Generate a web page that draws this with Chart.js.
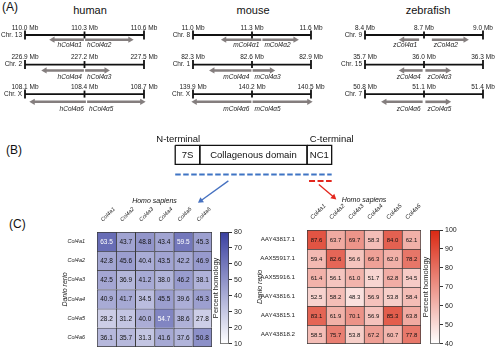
<!DOCTYPE html>
<html>
<head>
<meta charset="utf-8">
<script src="https://cdn.jsdelivr.net/npm/chart.js@4.4.1/dist/chart.umd.min.js"></script>
<style>
  body { margin: 0; background: #fff; }
  #wrap { position: relative; width: 500px; height: 350px; overflow: hidden; font-family: "Liberation Sans", Arial, sans-serif; }
  #wrap canvas, .lbl { position: absolute; }
  .lbl { white-space: nowrap; color: #111; line-height: 1; }
  .mid { transform: translateX(-50%); }
</style>
</head>
<body>
<div id="wrap">
  <div class="lbl" style="left:2px;top:1px;font-size:12px">(A)</div>
  <div class="lbl mid" style="left:90px;top:5px;font-size:11px">human</div>
  <div class="lbl mid" style="left:253px;top:5px;font-size:11px">mouse</div>
  <div class="lbl mid" style="left:428px;top:5px;font-size:11px">zebrafish</div>
  <div class="lbl" style="left:6px;top:144px;font-size:12px">(B)</div>
  <div class="lbl" style="left:9px;top:218px;font-size:12px">(C)</div>

  <canvas id="chrHuman" width="165" height="122" style="left:0;top:0"></canvas>
  <canvas id="chrMouse" width="165" height="122" style="left:165px;top:0"></canvas>
  <canvas id="chrFish" width="170" height="122" style="left:330px;top:0"></canvas>
  <canvas id="domains" width="500" height="88" style="left:0;top:125px"></canvas>
  <canvas id="heatNT" width="250" height="160" style="left:0;top:190px"></canvas>
  <canvas id="barNT" width="55" height="160" style="left:195px;top:190px"></canvas>
  <canvas id="heatNC" width="250" height="160" style="left:250px;top:190px"></canvas>
  <canvas id="barNC" width="95" height="160" style="left:405px;top:190px"></canvas>
</div>
<script>
// ---- panel A: gene loci ----
const chrLabels = [["Chr. 13", "Chr. 2", "Chr. X"], ["Chr. 8", "Chr. 1", "Chr. X"], ["Chr. 9", "Chr. 15", "Chr. 7"]];
const chrStart = [[110.0, 226.9, 108.1], [11.0, 82.3, 139.9], [8.4, 35.7, 50.8]];
const chrMid = [[110.3, 227.2, 108.4], [11.3, 82.6, 140.2], [8.7, 36.0, 51.1]];
const chrEnd = [[110.6, 227.5, 108.7], [11.6, 82.9, 140.5], [9.0, 36.3, 51.4]];

const leftGenes = [["hCol4α1", "hCol4α4", "hCol4α6"], ["mCol4α1", "mCol4α4", "mCol4α6"], ["zCol4α1", "zCol4α4", "zCol4α6"]];
const leftFrom = [[110.297, 227.197, 108.407], [11.347, 82.597, 140.197], [8.675, 35.993, 51.093]];
const leftTo = [[110.14, 227.0, 108.14], [11.16, 82.40, 139.91], [8.59, 35.89, 50.90]];
const rightGenes = [["hCol4α2", "hCol4α3", "hCol4α5"], ["mCol4α2", "mCol4α3", "mCol4α5"], ["zCol4α2", "zCol4α3", "zCol4α5"]];
const rightFrom = [[110.303, 227.203, 108.413], [11.353, 82.603, 140.203], [8.74, 36.007, 51.107]];
const rightTo = [[110.53, 227.31, 108.69], [11.52, 82.70, 140.49], [8.91, 36.12, 51.22]];

// ---- panel B: domain structure ----
const domainNames = ["7S", "Collagenous domain", "NC1"];
const domainLengths = [25, 109, 25]; // relative lengths as drawn

// ---- panel C: heatmaps ----
const humanCols = ["Col4a1", "Col4a2", "Col4a3", "Col4a4", "Col4a5", "Col4a6"];
const fishRowsNT = ["Col4a1", "Col4a2", "Col4a3", "Col4a4", "Col4a5", "Col4a6"];
const valuesNT = [
  [63.5, 43.7, 48.8, 43.4, 59.5, 45.3],
  [42.8, 45.6, 40.4, 43.5, 42.2, 46.9],
  [42.5, 36.9, 41.2, 38.0, 46.2, 38.1],
  [40.9, 41.7, 34.5, 45.5, 39.6, 45.3],
  [28.2, 31.2, 40.0, 54.7, 38.6, 27.8],
  [36.1, 35.7, 31.3, 41.6, 37.6, 50.8]
];
const fishRowsNC = ["AAY43817.1", "AAX55917.1", "AAX55916.1", "AAY43816.1", "AAY43815.1", "AAY43818.2"];
const valuesNC = [
  [87.6, 63.7, 69.7, 58.3, 84.0, 62.1],
  [59.4, 82.6, 56.6, 66.3, 62.0, 78.2],
  [61.4, 56.1, 61.0, 51.7, 62.8, 54.5],
  [52.5, 58.2, 48.3, 56.9, 53.8, 58.4],
  [83.1, 61.9, 70.1, 56.9, 85.3, 63.8],
  [58.5, 75.7, 53.8, 67.2, 60.7, 77.8]
];

const FONT = '"Liberation Sans", Arial, sans-serif';
Chart.defaults.font.family = FONT;
Chart.defaults.color = "#222";
Chart.defaults.animation = false;
Chart.defaults.plugins.legend.display = false;
Chart.defaults.plugins.tooltip.enabled = false;

const arrowGrey = "#847e7e";
const rowArrowDy = [0.16, 0.2, 0.26];
const rowLabelDy = [0.34, 0.43, 0.51];

// text for chromosome rows
const chrTextPlugin = {
  id: "chrText",
  afterDraw(chart, args, opts) {
    const s = opts.s, ctx = chart.ctx, y = chart.scales.y;
    ctx.save();
    ctx.fillStyle = "#222";
    for (let r = 0; r < 3; r++) {
      const x = chart.scales["x" + r];
      const py = y.getPixelForValue(r);
      ctx.font = "6.5px " + FONT;
      ctx.textAlign = "center";
      ctx.textBaseline = "bottom";
      [chrStart, chrMid, chrEnd].forEach(a => {
        ctx.fillText(a[s][r].toFixed(1) + " Mb", x.getPixelForValue(a[s][r]), py - 4);
      });
      ctx.textAlign = "right";
      ctx.textBaseline = "middle";
      ctx.fillText(chrLabels[s][r], x.getPixelForValue(chrStart[s][r]) - 3, py);
      // gene names
      ctx.font = "italic 6.5px " + FONT;
      const gy = y.getPixelForValue(r + rowLabelDy[r]);
      ctx.fillText(leftGenes[s][r], x.getPixelForValue(leftFrom[s][r]) - 2, gy);
      ctx.textAlign = "left";
      ctx.fillText(rightGenes[s][r], x.getPixelForValue(rightFrom[s][r]) + 2, gy);
    }
    ctx.restore();
  }
};

function chromosomeChart(id, s, pad) {
  const datasets = [];
  const scales = { y: { type: "linear", min: -0.97, max: 2.73, reverse: true, display: false } };
  for (let r = 0; r < 3; r++) {
    const xid = "x" + r;
    scales[xid] = { type: "linear", axis: "x", min: chrStart[s][r], max: chrEnd[s][r], display: false };
    datasets.push({
      data: [{ x: chrStart[s][r], y: r }, { x: chrEnd[s][r], y: r }],
      xAxisID: xid, showLine: true, borderColor: "#111", borderWidth: 1.8, pointRadius: 0, clip: false
    });
    datasets.push({
      data: [chrStart, chrMid, chrEnd].map(a => ({ x: a[s][r], y: r })),
      xAxisID: xid, pointStyle: "line", pointRotation: 90, pointRadius: [4.5, 3.5, 4.5],
      pointBorderWidth: 1.8, pointBorderColor: "#111", clip: false
    });
    const ay = r + rowArrowDy[r];
    [[leftFrom, leftTo], [rightFrom, rightTo]].forEach(([f, t]) => {
      const a = f[s][r], b = t[s][r];
      datasets.push({
        data: [{ x: a, y: ay }, { x: b, y: ay }],
        xAxisID: xid, showLine: true, borderColor: arrowGrey, borderWidth: 2.6,
        pointStyle: "triangle", pointRadius: [0, 3.6], pointRotation: b > a ? 90 : -90,
        pointBackgroundColor: arrowGrey, pointBorderColor: arrowGrey, pointBorderWidth: 0, clip: false
      });
    });
  }
  new Chart(document.getElementById(id), {
    type: "scatter",
    data: { datasets },
    options: { responsive: false, layout: { padding: pad }, scales, plugins: { chrText: { s } } },
    plugins: [chrTextPlugin]
  });
}

chromosomeChart("chrHuman", 0, { left: 25, right: 21, top: 0, bottom: 0 });
chromosomeChart("chrMouse", 1, { left: 28, right: 19, top: 0, bottom: 0 });
chromosomeChart("chrFish", 2, { left: 35, right: 17, top: 0, bottom: 0 });

// ---- panel B ----
const edges = [0];
domainLengths.forEach(l => edges.push(edges[edges.length - 1] + l));
const fullSpan = [edges[0], edges[3]];
const ncSpan = [edges[2], edges[3]];
const blueArrowX = [54, 26], blueArrowY = [1.86, 2.9];
const redArrowX = [146, 161], redArrowY = [2.05, 2.71];

function arrowRotation(c) {
  const d = c.dataset.data, xs = c.chart.scales.x, ys = c.chart.scales.y;
  const dx = xs.getPixelForValue(d[1].x) - xs.getPixelForValue(d[0].x);
  const dy = ys.getPixelForValue(d[1].y) - ys.getPixelForValue(d[0].y);
  return Math.atan2(dx, -dy) * 180 / Math.PI;
}

const domainDatasets = domainNames.map((n, i) => ({
  data: [[edges[i], 0], [edges[i + 1], 0], [edges[i + 1], 1], [edges[i], 1], [edges[i], 0]].map(p => ({ x: p[0], y: p[1] })),
  showLine: true, borderColor: "#111", borderWidth: 1.3, pointRadius: 0, clip: false
}));
domainDatasets.push(
  { data: [{ x: fullSpan[0], y: 1.52 }, { x: fullSpan[1], y: 1.52 }], showLine: true, borderColor: "#3f74c4", borderWidth: 2, borderDash: [5.5, 2.5], pointRadius: 0 },
  { data: [{ x: ncSpan[0] + 2, y: 1.86 }, { x: ncSpan[1], y: 1.86 }], showLine: true, borderColor: "#e3261d", borderWidth: 2, borderDash: [6, 2.5], pointRadius: 0 },
  { data: blueArrowX.map((x, i) => ({ x, y: blueArrowY[i] })), showLine: true, borderColor: "#4671c0", borderWidth: 1.3,
    pointStyle: "triangle", pointRadius: [0, 3.5], pointRotation: arrowRotation, pointBackgroundColor: "#4671c0", pointBorderWidth: 0 },
  { data: redArrowX.map((x, i) => ({ x, y: redArrowY[i] })), showLine: true, borderColor: "#e3261d", borderWidth: 1.3,
    pointStyle: "triangle", pointRadius: [0, 3.5], pointRotation: arrowRotation, pointBackgroundColor: "#e3261d", pointBorderWidth: 0 }
);

new Chart(document.getElementById("domains"), {
  type: "scatter",
  data: { datasets: domainDatasets },
  options: {
    responsive: false,
    layout: { padding: 0 },
    scales: {
      x: { type: "linear", min: -174, max: 326, display: false },
      y: { type: "linear", min: -0.857, max: 3.333, reverse: true, display: false }
    }
  },
  plugins: [{
    id: "domainText",
    afterDraw(chart) {
      const ctx = chart.ctx, x = chart.scales.x, y = chart.scales.y;
      ctx.save();
      ctx.fillStyle = "#111";
      ctx.font = "9.5px " + FONT;
      ctx.textAlign = "center";
      ctx.textBaseline = "middle";
      domainNames.forEach((n, i) => {
        ctx.fillText(n, x.getPixelForValue((edges[i] + edges[i + 1]) / 2), y.getPixelForValue(0.5));
      });
      ctx.fillText("N-terminal", x.getPixelForValue(edges[0]) + 3, y.getPixelForValue(-0.33));
      ctx.fillText("C-terminal", x.getPixelForValue(edges[3]), y.getPixelForValue(-0.33));
      ctx.restore();
    }
  }]
});

// ---- panel C ----
function mix(rgb, t) {
  t = Math.max(0, Math.min(1, t));
  return "rgb(" + rgb.map(c => Math.round(255 + (c - 255) * t)).join(",") + ")";
}

function heatmap(id, rows, values, vmin, vmax, maxRGB, cfg) {
  const n = rows.length;
  const datasets = rows.map((row, i) => ({
    label: row,
    data: values[i].map(() => [n - 1 - i, n - i]),
    values: values[i],
    backgroundColor: values[i].map(v => mix(maxRGB, (v - vmin) / (vmax - vmin))),
    borderColor: "#3a3a3a",
    borderWidth: c => ({ top: 1, left: 1, right: c.dataIndex === humanCols.length - 1 ? 1 : 0, bottom: i === n - 1 ? 1 : 0 }),
    borderSkipped: false,
    grouped: false,
    barPercentage: 1,
    categoryPercentage: 1
  }));
  new Chart(document.getElementById(id), {
    type: "bar",
    data: { labels: humanCols, datasets },
    options: {
      responsive: false,
      layout: { padding: cfg.pad },
      scales: {
        x: {
          position: "top",
          grid: { display: false }, border: { display: false },
          ticks: { font: { size: cfg.colFont, style: "italic" }, minRotation: 45, maxRotation: 45, autoSkip: false, padding: 1, color: "#222" },
          afterFit: a => { a.height = cfg.xHeight; a.paddingLeft = 0; a.paddingRight = 0; }
        },
        y: {
          type: "linear", min: 0, max: n,
          grid: { display: false }, border: { display: false },
          afterBuildTicks: a => { a.ticks = rows.map((_, i) => ({ value: n - 0.5 - i })); },
          ticks: { callback: v => rows[Math.round(n - 0.5 - v)], font: { size: cfg.rowFont, style: cfg.rowStyle }, padding: 4, color: "#222" },
          title: { display: true, text: "Danio rerio", font: { size: 7, style: "italic" }, padding: { top: cfg.titlePad, bottom: 0 }, color: "#222" },
          afterFit: a => { a.width = cfg.yWidth; a.paddingTop = 0; a.paddingBottom = 0; }
        }
      }
    },
    plugins: [{
      id: "cellText",
      afterDatasetsDraw(chart) {
        const ctx = chart.ctx;
        ctx.save();
        ctx.font = cfg.valFont + "px " + FONT;
        ctx.textAlign = "center";
        ctx.textBaseline = "middle";
        chart.data.datasets.forEach((ds, i) => {
          chart.getDatasetMeta(i).data.forEach((el, j) => {
            const v = ds.values[j];
            ctx.fillStyle = v > cfg.whiteAbove ? "#fff" : "#111";
            ctx.fillText(v.toFixed(1), el.x, (el.y + el.base) / 2 + 0.5);
          });
        });
        const a = chart.chartArea;
        ctx.font = "italic 7px " + FONT;
        ctx.fillStyle = "#111";
        ctx.fillText("Homo sapiens", (a.left + a.right) / 2, cfg.titleY);
        ctx.restore();
      }
    }]
  });
}

function colorbar(id, vmin, vmax, step, maxRGB, cfg) {
  new Chart(document.getElementById(id), {
    type: "bar",
    data: {
      labels: [""],
      datasets: [{
        data: [[vmin, vmax]],
        backgroundColor: c => {
          const a = c.chart.chartArea;
          if (!a) return "#fff";
          const g = c.chart.ctx.createLinearGradient(0, a.bottom, 0, a.top);
          g.addColorStop(0, "#ffffff");
          g.addColorStop(1, mix(maxRGB, 1));
          return g;
        },
        borderColor: "#333", borderWidth: 1, borderSkipped: false,
        barPercentage: 1, categoryPercentage: 1
      }]
    },
    options: {
      responsive: false,
      layout: { padding: { top: cfg.top, bottom: cfg.bottom, left: 0, right: 0 } },
      scales: {
        x: { display: false },
        y: {
          position: "right", min: vmin, max: vmax,
          ticks: { stepSize: step, font: { size: 7 }, padding: 2, color: "#222" },
          grid: { drawOnChartArea: false, tickLength: 3, color: "#333" },
          border: { display: false },
          afterFit: a => { a.width = cfg.rightW; }
        },
        yl: {
          position: "left", min: vmin, max: vmax,
          ticks: { display: false }, grid: { display: false }, border: { display: false },
          title: { display: true, text: "Percent homology", font: { size: 7.5 }, padding: { top: cfg.titlePad, bottom: 0 }, color: "#222" },
          afterFit: a => { a.width = 25; }
        }
      }
    }
  });
}

const blueMax = [58, 64, 160];
const redMax = [218, 40, 18];

heatmap("heatNT", fishRowsNT, valuesNT, 10, 80, blueMax, {
  pad: { left: 56, right: 38, top: 0, bottom: 3 }, xHeight: 42, yWidth: 41, titlePad: 5,
  colFont: 5.5, rowFont: 5.5, rowStyle: "italic", valFont: 6.5, whiteAbove: 52, titleY: 11
});
colorbar("barNT", 10, 80, 10, blueMax, { top: 42, bottom: 3, rightW: 21, titlePad: 16 });

heatmap("heatNC", fishRowsNC, valuesNC, 40, 100, redMax, {
  pad: { left: 0, right: 79, top: 0, bottom: 6 }, xHeight: 40, yWidth: 57, titlePad: 6,
  colFont: 6, rowFont: 6.2, rowStyle: "normal", valFont: 6, whiteAbove: 1000, titleY: 10
});
colorbar("barNC", 40, 100, 10, redMax, { top: 40, bottom: 6, rightW: 60, titlePad: 16.5 });
</script>
</body>
</html>
